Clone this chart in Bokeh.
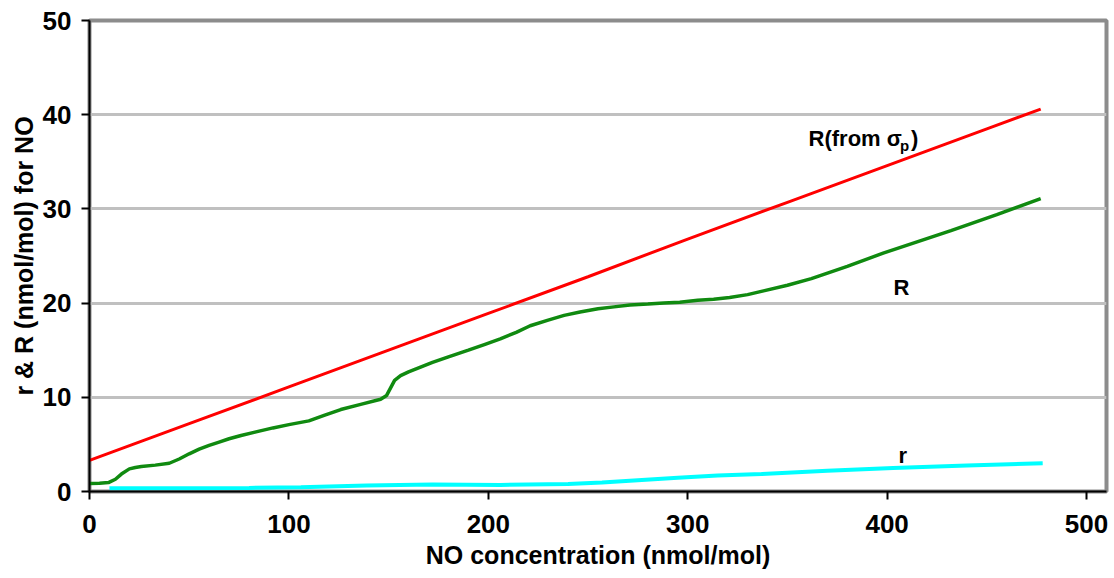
from bokeh.plotting import figure
from bokeh.models import Range1d, FixedTicker, Label
from bokeh.embed import file_html
from bokeh.resources import INLINE

# --- data ---
red_x = [0, 50, 100, 150, 200, 250, 300, 350, 400, 450, 477]
red_y = [3.3, 7.2, 11.1, 15.0, 18.9, 22.8, 26.8, 30.7, 34.6, 38.5, 40.6]

green_x = [0, 5, 9.5, 13, 16, 20, 23, 26, 33, 40, 45, 50, 55, 60, 65, 70, 76, 83, 92, 100, 110,
           118, 126, 136, 146, 149, 151, 153, 156, 160, 166, 172, 180, 190, 198, 206, 214, 221, 230,
           238, 246, 255, 263, 271, 280, 288, 296, 305, 313, 321, 330, 338, 350, 362, 380, 398,
           415, 432, 455, 477]
green_y = [0.85, 0.88, 0.95, 1.3, 1.85, 2.4, 2.55, 2.65, 2.8, 3.0, 3.45, 4.0, 4.5, 4.9, 5.25, 5.6,
           5.95, 6.3, 6.75, 7.1, 7.5, 8.1, 8.7, 9.25, 9.8, 10.2, 11.0, 11.8, 12.3, 12.7, 13.2, 13.7,
           14.3, 15.0, 15.6, 16.2, 16.9, 17.6, 18.2, 18.7, 19.05, 19.4, 19.6, 19.8, 19.9, 20.0,
           20.1, 20.3, 20.4, 20.6, 20.9, 21.3, 21.9, 22.6, 23.9, 25.3, 26.5, 27.7, 29.4, 31.1]

cyan_x = [10, 50, 80, 106, 139, 172, 206, 240, 257, 273, 295, 315, 337, 370, 403, 440, 478]
cyan_y = [0.35, 0.35, 0.38, 0.45, 0.64, 0.74, 0.70, 0.80, 0.95, 1.17, 1.45, 1.70, 1.85, 2.2, 2.5, 2.75, 3.0]

x_ticks = [0, 100, 200, 300, 400, 500]
y_ticks = [0, 10, 20, 30, 40, 50]

FONT = "Liberation Sans"

p = figure(width=1110, height=578, output_backend="svg", toolbar_location=None,
           x_range=Range1d(0, 510), y_range=Range1d(0, 50),
           min_border_left=89, min_border_top=20, min_border_right=4, min_border_bottom=87)
p.background_fill_color = "white"
p.border_fill_color = "white"
p.outline_line_color = "#8c8c8c"
p.outline_line_width = 4

p.xgrid.grid_line_color = None
p.ygrid.grid_line_color = "#c0c0c0"
p.ygrid.grid_line_width = 3
p.ygrid.ticker = FixedTicker(ticks=y_ticks)

for ax in (p.xaxis[0], p.yaxis[0]):
    ax.axis_line_color = "black"
    ax.axis_line_width = 2
    ax.major_tick_line_color = "black"
    ax.major_tick_line_width = 2
    ax.major_tick_out = 8
    ax.major_tick_in = 0
    ax.minor_tick_line_color = None
    ax.major_label_text_font = FONT
    ax.major_label_text_font_style = "bold"
    ax.major_label_text_font_size = "26px"
    ax.major_label_text_color = "black"
    ax.axis_label_text_font = FONT
    ax.axis_label_text_font_style = "bold"
    ax.axis_label_text_font_size = "25px"
    ax.axis_label_text_color = "black"

p.xaxis.ticker = FixedTicker(ticks=x_ticks)
p.yaxis.ticker = FixedTicker(ticks=y_ticks)
p.xaxis.major_label_standoff = 15
p.yaxis.major_label_standoff = 10
p.xaxis.axis_label = "NO concentration (nmol/mol)"
p.yaxis.axis_label = "r & R (nmol/mol) for NO"
p.xaxis.axis_label_standoff = 5
p.yaxis.axis_label_standoff = 2

p.line(red_x, red_y, line_color="#ff0000", line_width=3)
p.line(green_x, green_y, line_color="#108a10", line_width=3.5)
p.line(cyan_x, cyan_y, line_color="#00ffff", line_width=4)

lab_kw = dict(text_font=FONT, text_font_style="bold", text_color="black",
              text_baseline="alphabetic", text_align="left")
p.add_layout(Label(x=360.6, y=37.5, text="R(from \u03c3", text_font_size="22px", **lab_kw))
p.add_layout(Label(x=406.5, y=36.7, text="p", text_font_size="15px", **lab_kw))
p.add_layout(Label(x=412.0, y=37.5, text=")", text_font_size="22px", **lab_kw))
p.add_layout(Label(x=403.2, y=21.66, text="R", text_font_size="22px", **lab_kw))
p.add_layout(Label(x=405.7, y=3.82, text="r", text_font_size="22px", **lab_kw))

open("out.html", "w").write(file_html(p, INLINE))
